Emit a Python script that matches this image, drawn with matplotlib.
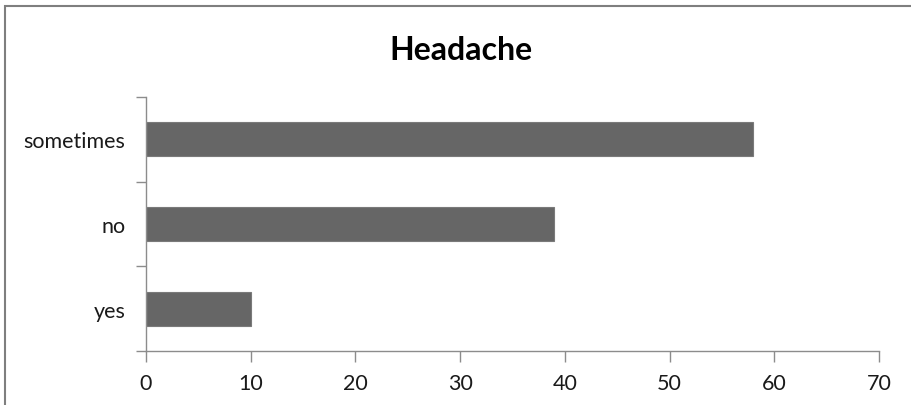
import matplotlib.pyplot as plt
from matplotlib.patches import Rectangle
import numpy as np

categories = ["yes", "no", "sometimes"]
counts = [10, 39, 58]
x_ticks = [0, 10, 20, 30, 40, 50, 60, 70]

plt.rcParams["font.family"] = ["Lato", "DejaVu Sans"]

fig = plt.figure(figsize=(9.12, 4.06), dpi=100)
ax = fig.add_axes([146 / 912, 1 - 352 / 406, (879 - 146) / 912, (352 - 98) / 406])

pos = np.arange(len(categories))
ax.barh(pos, counts, height=0.4, color="#666666", edgecolor="#7a7a7a", linewidth=0.8, zorder=2)

ax.set_xlim(0, 70)
ax.set_ylim(-0.5, len(categories) - 0.5)
ax.set_xticks(x_ticks)
ax.set_xticklabels([str(t) for t in x_ticks])
ax.set_yticks(pos)
ax.set_yticklabels(categories)
ax.set_yticks(np.arange(-0.5, len(categories)), minor=True)

axis_grey = "#8c8c8c"
for side in ("top", "right"):
    ax.spines[side].set_visible(False)
for side in ("left", "bottom"):
    ax.spines[side].set_color(axis_grey)
    ax.spines[side].set_linewidth(1.0)

ax.tick_params(axis="x", direction="out", length=8, width=1.0, color=axis_grey,
               labelsize=15.5, labelcolor="#1a1a1a", pad=8)
ax.tick_params(axis="y", which="major", length=0, labelsize=15.5, labelcolor="#1a1a1a", pad=15)
ax.tick_params(axis="y", which="minor", direction="out", length=7, width=1.0, color=axis_grey)

fig.text(0.505, 1 - 51 / 406, "Headache", ha="center", va="center",
         fontsize=23, fontweight="bold", color="#000000")

# frame around the chart area, clipped at the right and bottom edges
fig.patches.append(Rectangle((5 / 912, -0.1), 1.2, 1 - 7 / 406 + 0.1,
                             transform=fig.transFigure, fill=False,
                             edgecolor="#7f7f7f", linewidth=1.5))

fig.savefig("out.png", dpi=100)
